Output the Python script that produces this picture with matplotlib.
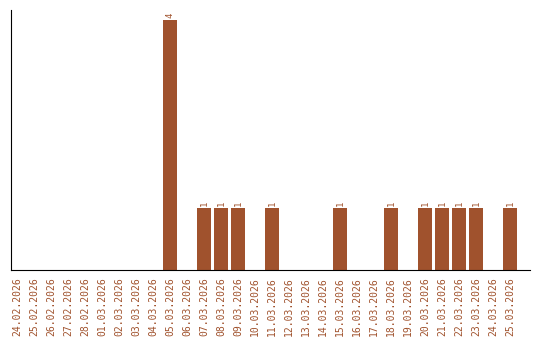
import matplotlib
matplotlib.use('Agg')
import matplotlib.pyplot as plt

# datas e contagens
datas = ['24.02.2026', '25.02.2026', '26.02.2026', '27.02.2026', '28.02.2026',
         '01.03.2026', '02.03.2026', '03.03.2026', '04.03.2026', '05.03.2026',
         '06.03.2026', '07.03.2026', '08.03.2026', '09.03.2026', '10.03.2026',
         '11.03.2026', '12.03.2026', '13.03.2026', '14.03.2026', '15.03.2026',
         '16.03.2026', '17.03.2026', '18.03.2026', '19.03.2026', '20.03.2026',
         '21.03.2026', '22.03.2026', '23.03.2026', '24.03.2026', '25.03.2026']
valores = [0, 0, 0, 0, 0,
           0, 0, 0, 0, 4,
           0, 1, 1, 1, 0,
           1, 0, 0, 0, 1,
           0, 0, 1, 0, 1,
           1, 1, 1, 0, 1]

cor = '#A0522D'

fig = plt.figure(figsize=(5.4, 3.4), dpi=100)
ax = fig.add_axes([11/540, 70/340, 519/540, 260/340])

x = range(len(datas))
barras = ax.bar(x, valores, width=0.82, color=cor)

for i, v in enumerate(valores):
    if v > 0:
        ax.text(i, v + 0.03, str(v), rotation=90, ha='center', va='bottom',
                color=cor, fontsize=6.5, family='DejaVu Sans Mono')

ax.set_xlim(-0.35, 30.18)
ax.set_ylim(0, 4.16)
ax.set_xticks(list(x))
ax.set_xticklabels(datas, rotation=90, color=cor, fontsize=7, family='DejaVu Sans Mono')
ax.tick_params(axis='x', length=0, pad=5)
ax.set_yticks([])
ax.spines['top'].set_visible(False)
ax.spines['right'].set_visible(False)

fig.savefig('out.png', dpi=100)
